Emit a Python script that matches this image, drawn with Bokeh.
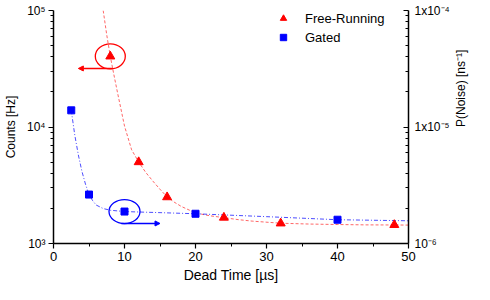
import math
from bokeh.plotting import figure
from bokeh.models import (Range1d, LogScale, LogAxis, FixedTicker, Arrow, NormalHead,
                          Legend, LegendItem)
from bokeh.embed import file_html
from bokeh.resources import INLINE

# ---- data ----
dead_time_fr = [8, 12, 16, 24, 32, 48]
counts_fr = [40400, 5000, 2500, 1670, 1490, 1445]

dead_time_g = [2.5, 5, 10, 20, 40]
counts_g = [13900, 2630, 1880, 1800, 1600]

fit_fr_x = [7, 7.5, 8, 8.5, 9, 10, 11, 12, 13, 14, 15, 16, 17, 18, 20, 22, 24, 26, 28, 32, 36, 40, 44, 48, 50]
fit_fr_y = [100000, 61700, 40400, 28200, 19950, 10200, 6380, 5000, 4070, 3430, 2920, 2510, 2265, 2080,
            1830, 1730, 1667, 1603, 1556, 1493, 1469, 1455, 1445, 1442, 1439]

fit_g_x = [2.5, 3, 3.5, 4, 4.5, 5, 5.5, 6, 7, 8, 10, 15, 20, 30, 40, 50]
fit_g_y = [13900, 8500, 5750, 4170, 3240, 2630, 2340, 2140, 1995, 1930, 1880, 1840, 1800, 1700, 1600, 1567]

x_ticks = [0, 10, 20, 30, 40, 50]
count_ticks = [1e3, 1e4, 1e5]
count_tick_labels = ["10³", "10⁴", "10⁵"]
noise_ticks = [1e-6, 1e-5, 1e-4]
noise_tick_labels = ["10⁻⁶", "1x10⁻⁵", "1x10⁻⁴"]

# annotation (circle + arrow) marks pointing to the axes
fr_arrow = dict(x0=8.35, x1=3.5, y=31800)
g_arrow = dict(x0=9.55, x1=15.0, y=1486)

FONT = "Liberation Sans"
RED = "#ff0000"
BLUE = "#0000ff"

p = figure(width=482, height=292, output_backend="svg", toolbar_location=None,
           x_range=Range1d(0, 50), y_range=Range1d(1e3, 1e5), y_axis_type="log",
           min_border_left=51, min_border_right=74, min_border_top=10, min_border_bottom=49)
p.outline_line_color = None
p.grid.visible = False
p.background_fill_color = "white"
p.border_fill_color = "white"

p.extra_y_ranges = {"p": Range1d(1e-6, 1e-4)}
p.extra_y_scales = {"p": LogScale()}

def minor_log(lo, hi):
    out = []
    e = lo
    while e < hi:
        for k in range(2, 10):
            out.append(k * 10.0 ** e)
        e += 1
    return out

# fits
p.line(fit_fr_x, fit_fr_y, line_color=RED, line_alpha=0.6, line_width=1, line_dash="3 2")
p.line(fit_g_x, fit_g_y, line_color=BLUE, line_alpha=0.7, line_width=1, line_dash="4 2 1 2")

# data
r_fr = p.scatter(dead_time_fr, counts_fr, marker="triangle", size=9, color=RED)
r_g = p.scatter(dead_time_g, counts_g, marker="square", size=7, color=BLUE)

# ellipses and arrows
p.ellipse(x=[dead_time_fr[0]], y=[counts_fr[0]], width=30, height=25, width_units="screen",
          height_units="screen", fill_color=None, line_color=RED, line_width=1.3)
p.ellipse(x=[dead_time_g[2]], y=[counts_g[2]], width=31, height=24, width_units="screen",
          height_units="screen", fill_color=None, line_color=BLUE, line_width=1.3)
p.add_layout(Arrow(end=NormalHead(size=5, fill_color=RED, line_color=RED),
                   x_start=fr_arrow["x0"], x_end=fr_arrow["x1"], y_start=fr_arrow["y"], y_end=fr_arrow["y"],
                   line_color=RED, line_width=1.5))
p.add_layout(Arrow(end=NormalHead(size=5, fill_color=BLUE, line_color=BLUE),
                   x_start=g_arrow["x0"], x_end=g_arrow["x1"], y_start=g_arrow["y"], y_end=g_arrow["y"],
                   line_color=BLUE, line_width=1.5))

def style_axis(ax, label_size):
    ax.axis_line_color = "black"
    ax.axis_line_width = 1.5
    ax.major_tick_line_color = "black"
    ax.minor_tick_line_color = "black"
    ax.major_tick_line_width = 1.2
    ax.minor_tick_line_width = 1
    ax.major_label_text_font = FONT
    ax.major_label_text_font_size = "12px"
    ax.major_label_text_color = "black"
    ax.axis_label_text_font = FONT
    ax.axis_label_text_font_size = label_size
    ax.axis_label_text_font_style = "normal"
    ax.axis_label_text_color = "black"

# bottom axis
xa = p.xaxis[0]
xa.ticker = FixedTicker(ticks=x_ticks, minor_ticks=[5, 15, 25, 35, 45])
xa.axis_label = "Dead Time [µs]"
style_axis(xa, "14px")
xa.major_label_text_font_size = "13px"
xa.major_tick_in = 0
xa.major_tick_out = 5
xa.minor_tick_in = 0
xa.minor_tick_out = 3
xa.major_label_standoff = 3
xa.axis_label_standoff = 3

# left axis
ya = p.yaxis[0]
ya.ticker = FixedTicker(ticks=count_ticks, minor_ticks=minor_log(3, 5))
ya.major_label_overrides = dict(zip(count_ticks, count_tick_labels))
ya.axis_label = "Counts [Hz]"
style_axis(ya, "12px")
ya.major_tick_in = 0
ya.major_tick_out = 5
ya.minor_tick_in = 0
ya.minor_tick_out = 3
ya.major_label_standoff = 3
ya.axis_label_standoff = 6

# right axis
ra = LogAxis(y_range_name="p")
ra.ticker = FixedTicker(ticks=noise_ticks, minor_ticks=minor_log(-6, -4))
ra.major_label_overrides = dict(zip(noise_ticks, noise_tick_labels))
ra.axis_label = "P(Noise) [ns⁻¹]"
style_axis(ra, "12px")
ra.major_tick_in = 5
ra.major_tick_out = 0
ra.minor_tick_in = 3
ra.minor_tick_out = 0
ra.major_label_standoff = 6
ra.axis_label_standoff = 8
if "axis_label_orientation" in ra.properties():
    ra.axis_label_orientation = math.pi / 2
p.add_layout(ra, "right")

legend = Legend(items=[LegendItem(label="Free-Running", renderers=[r_fr]),
                       LegendItem(label="Gated", renderers=[r_g])],
                location=(222, 198), orientation="vertical",
                glyph_width=16, glyph_height=16, label_standoff=14, spacing=3,
                padding=0, margin=0, border_line_color=None, background_fill_alpha=0,
                label_text_font=FONT, label_text_font_size="13px", label_text_color="black")
p.add_layout(legend, "center")

open("out.html", "w").write(file_html(p, INLINE))
